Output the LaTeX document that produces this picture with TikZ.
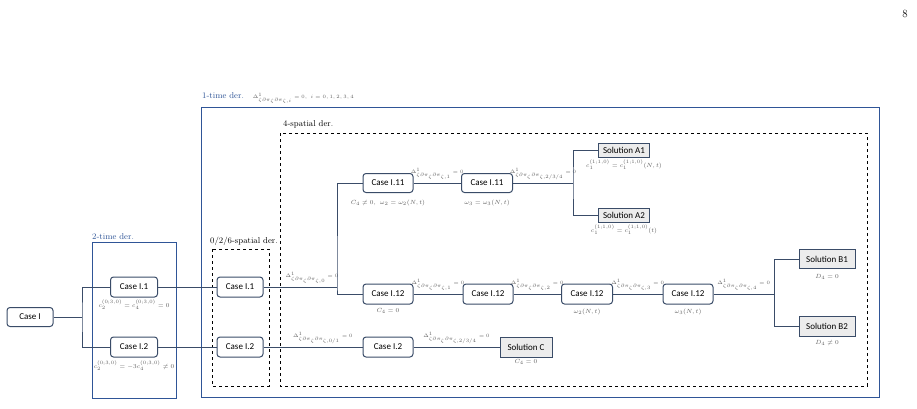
\documentclass[tikz,border=0pt]{standalone}
\usepackage{fontspec}
\newfontfamily\boxfont{Carlito}
\definecolor{linec}{RGB}{58,76,104}
\definecolor{framec}{RGB}{47,85,151}
\definecolor{mathc}{RGB}{95,95,95}
\definecolor{solfill}{RGB}{236,236,236}
\tikzset{
  casebox/.style={draw=linec, line width=1pt, rounded corners=3pt, fill=white, inner sep=1pt,
    font=\boxfont\fontsize{9}{10}\selectfont},
  solbox/.style={draw=linec, line width=1pt, fill=solfill, inner sep=1pt,
    font=\boxfont\fontsize{9}{10}\selectfont},
  conn/.style={draw=linec, line width=0.9pt},
  lbl/.style={text=mathc, font=\fontsize{6.4}{7}\selectfont, inner sep=0pt},
  dlbl/.style={text=mathc, font=\fontsize{5}{6}\selectfont, inner sep=0pt},
  timeframe/.style={draw=framec, line width=1pt},
  spaceframe/.style={draw=black, dashed, line width=0.8pt},
  ftitle/.style={font=\fontsize{8.5}{10}\selectfont, inner sep=0pt, anchor=south west},
}
\newcommand{\dsub}[1]{\Delta^1_{\zeta\partial\pi_\zeta\partial\pi_{\zeta,#1}}}
\begin{document}
\begin{tikzpicture}[x=1pt,y=-1pt]
\useasboundingbox (0,0) rectangle (917,408);
\node[font=\fontsize{11}{12}\selectfont, inner sep=0pt] (pg) at (905,14) {8};

% frames
\draw[timeframe] (92,242) rectangle (176,398);
\draw[timeframe] (201,107) rectangle (879,397);
\draw[spaceframe] (212,249) rectangle (269,386);
\draw[spaceframe] (280,133) rectangle (867,386);
\node[ftitle, text=framec] (t2) at (92,240) {2-time der.};
\node[ftitle] (t026) at (210,246) {0/2/6-spatial der.};
\node[ftitle] (t1) at (202,104) {\textcolor{framec}{1-time der.}\hspace{9pt}{\color{mathc}\fontsize{5}{6}\selectfont$\dsub{i}=0,\ i=0,1,2,3,4$}};
\node[ftitle] (t4) at (283,128) {4-spatial der.};

% boxes
\node[casebox, minimum width=46pt, minimum height=19pt] (caseI) at (30,317) {Case I};
\node[casebox, minimum width=47pt, minimum height=20pt] (c11a) at (134,287) {Case I.1};
\node[casebox, minimum width=47pt, minimum height=20pt] (c12a) at (134,347) {Case I.2};
\node[casebox, minimum width=46pt, minimum height=20pt] (c11b) at (240,287) {Case I.1};
\node[casebox, minimum width=46pt, minimum height=20pt] (c12b) at (240,347) {Case I.2};
\node[casebox, minimum width=50pt, minimum height=19pt] (c111) at (388,183) {Case I.11};
\node[casebox, minimum width=51pt, minimum height=19pt] (c112) at (487,183) {Case I.11};
\node[solbox, minimum width=51pt, minimum height=14pt] (solA1) at (624,150) {Solution A1};
\node[solbox, minimum width=51pt, minimum height=14pt] (solA2) at (624,215) {Solution A2};
\node[casebox, minimum width=50pt, minimum height=20pt] (c121) at (388,294) {Case I.12};
\node[casebox, minimum width=50pt, minimum height=20pt] (c122) at (488,294) {Case I.12};
\node[casebox, minimum width=51pt, minimum height=20pt] (c123) at (587,294) {Case I.12};
\node[casebox, minimum width=50pt, minimum height=20pt] (c124) at (688,294) {Case I.12};
\node[solbox, minimum width=56pt, minimum height=19pt] (solB1) at (827,259) {Solution B1};
\node[solbox, minimum width=56pt, minimum height=20pt] (solB2) at (827,326) {Solution B2};
\node[casebox, minimum width=50pt, minimum height=20pt] (c2c) at (388,347) {Case I.2};
\node[solbox, minimum width=52pt, minimum height=20pt] (solC) at (526,347) {Solution C};

% labels under boxes
\node[lbl] (l11a) at (134,305) {$c_2^{(0;3,0)}=c_4^{(0;3,0)}=0$};
\node[lbl] (l12a) at (134,366) {$c_2^{(0;3,0)}=-3c_4^{(0;3,0)}\neq0$};
\node[lbl] (l111) at (388,203) {$C_4\neq0,\ \omega_2=\omega_2(N,t)$};
\node[lbl] (l112) at (487,203) {$\omega_3=\omega_3(N,t)$};
\node[lbl] (lA1) at (624,165) {$c_1^{(1;1,0)}=c_1^{(1;1,0)}(N,t)$};
\node[lbl] (lA2) at (624,230) {$c_1^{(1;1,0)}=c_1^{(1;1,0)}(t)$};
\node[lbl] (l121) at (388,311) {$C_4=0$};
\node[lbl] (l123) at (587,312) {$\omega_2(N,t)$};
\node[lbl] (l124) at (688,312) {$\omega_3(N,t)$};
\node[lbl] (lB1) at (827,277) {$D_4=0$};
\node[lbl] (lB2) at (827,343) {$D_4\neq0$};
\node[lbl] (lC) at (526,362) {$C_4=0$};

% junctions
\coordinate (j1) at (82,317);
\coordinate (j2) at (337,287);
\coordinate (j3) at (573,183);
\coordinate (j4) at (774,294);

% connectors
\draw[conn] (caseI.east) -- (j1);
\draw[conn] (c11a.west) -| (j1) |- (c12a.west);
\draw[conn] (c11a.east) -- (c11b.west);
\draw[conn] (c12a.east) -- (c12b.west);
\draw[conn] (c11b.east) -- node[dlbl, pos=0.66, above=3pt] {$\dsub{0}=0$} (j2);
\draw[conn] (c111.west) -| (j2) |- (c121.west);
\draw[conn] (c111.east) -- node[dlbl, above=3pt] {$\dsub{1}=0$} (c112.west);
\draw[conn] (c112.east) -- node[dlbl, above=3pt] {$\dsub{2/3/4}=0$} (j3);
\draw[conn] (solA1.west) -| (j3) |- (solA2.west);
\draw[conn] (c121.east) -- node[dlbl, above=3pt] {$\dsub{1}=0$} (c122.west);
\draw[conn] (c122.east) -- node[dlbl, above=3pt] {$\dsub{2}=0$} (c123.west);
\draw[conn] (c123.east) -- node[dlbl, above=3pt] {$\dsub{3}=0$} (c124.west);
\draw[conn] (c124.east) -- node[dlbl, above=3pt] {$\dsub{4}=0$} (j4);
\draw[conn] (solB1.west) -| (j4) |- (solB2.west);
\draw[conn] (c12b.east) -- node[dlbl, pos=0.6, above=3pt] {$\dsub{0/1}=0$} (c2c.west);
\draw[conn] (c2c.east) -- node[dlbl, above=3pt] {$\dsub{2/3/4}=0$} (solC.west);
\end{tikzpicture}
\end{document}
